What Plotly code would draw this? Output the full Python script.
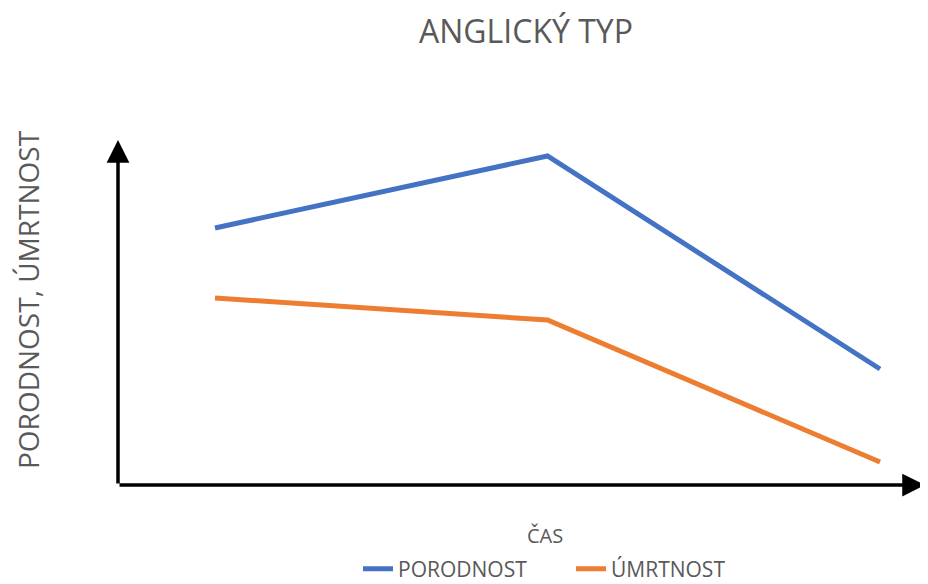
import plotly.graph_objects as go

categories = [0, 1, 2]
porodnost = [257, 329, 116]
umrtnost = [187, 165, 23]
series_names = ["PORODNOST", "ÚMRTNOST"]
title_text = "ANGLICKÝ TYP"
y_title = "PORODNOST, ÚMRTNOST"
x_title = "ČAS"

# page body has an 8px margin; figure drawn at (8, 8)
OFF = 8
W, H = 928 - OFF, 584 - OFF
L = 118 - OFF
T = 140 - OFF
AXIS_Y = 485 - OFF
B = H - AXIS_Y
R = W - (925 - OFF)
PW, PH = W - L - R, H - T - B

fig = go.Figure()
fig.add_trace(go.Scatter(x=categories, y=porodnost, mode="lines", name=series_names[0],
                         line=dict(color="#4472C4", width=5)))
fig.add_trace(go.Scatter(x=categories, y=umrtnost, mode="lines", name=series_names[1],
                         line=dict(color="#ED7D31", width=5)))

font_family = "Open Sans, Lato, sans-serif"
gray = "#595959"


def px_x(px):
    return (px - OFF - L) / PW


def px_y(py):
    return (AXIS_Y - (py - OFF)) / PH


fig.update_layout(
    width=W, height=H,
    margin=dict(l=L, r=R, t=T, b=B, pad=0, autoexpand=False),
    paper_bgcolor="white", plot_bgcolor="white",
    font=dict(family=font_family, color=gray),
    title=dict(text=title_text, x=px_x(526), xref="paper", xanchor="center",
               y=1 - (32 - OFF) / H, yref="container", yanchor="middle",
               font=dict(size=32, color=gray, family=font_family)),
    xaxis=dict(range=[-0.2917, 2.1353], showgrid=False, zeroline=False, showticklabels=False,
               showline=False, ticks=""),
    yaxis=dict(range=[0, 345], showgrid=False, zeroline=False, showticklabels=False,
               showline=False, ticks=""),
    showlegend=True,
    legend=dict(orientation="h", x=px_x(358), xanchor="left", xref="paper",
                y=px_y(569), yanchor="middle",
                entrywidth=168, entrywidthmode="pixels",
                font=dict(size=21, color=gray, family=font_family),
                bgcolor="rgba(0,0,0,0)"),
    annotations=[
        dict(xref="paper", yref="paper", axref="pixel", ayref="pixel",
             x=0, y=1, ax=0, ay=PH, showarrow=True, arrowhead=2, arrowsize=1.3,
             arrowwidth=3.5, arrowcolor="black", text=""),
        dict(xref="paper", yref="paper", axref="pixel", ayref="pixel",
             x=1, y=0, ax=-PW, ay=0, showarrow=True, arrowhead=2, arrowsize=1.3,
             arrowwidth=3.5, arrowcolor="black", text=""),
        dict(xref="paper", yref="paper", x=px_x(28), y=px_y(300),
             text=y_title, textangle=-90, showarrow=False, xanchor="center", yanchor="middle",
             font=dict(size=28, color=gray, family=font_family)),
        dict(xref="paper", yref="paper", x=px_x(545), y=px_y(535),
             text=x_title, showarrow=False, xanchor="center", yanchor="middle",
             font=dict(size=20, color=gray, family=font_family)),
    ],
)

fig.write_html("out.html")
